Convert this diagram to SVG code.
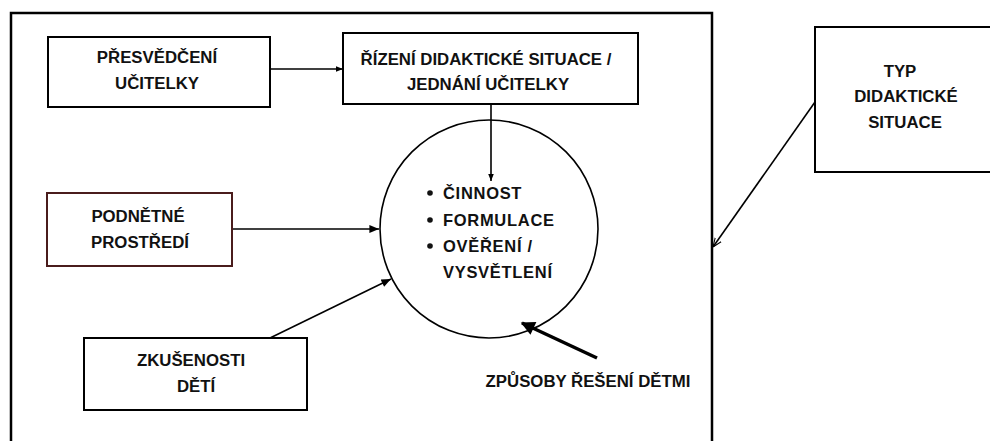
<svg xmlns="http://www.w3.org/2000/svg" width="990" height="441" viewBox="0 0 990 441">
  <style>
    .box { fill: #fff; stroke: #000; stroke-width: 2; }
    .box-red { fill: #fff; stroke: #4a1c1c; stroke-width: 2; }
    .frame { fill: none; stroke: #000; stroke-width: 2.5; }
    .lbl { font-family: "Liberation Sans", Arial, sans-serif; font-weight: bold; font-size: 16.8px; fill: #111; text-anchor: middle; }
    .item { font-family: "Liberation Sans", Arial, sans-serif; font-weight: bold; font-size: 16.5px; fill: #111; letter-spacing: 0.7px; }
    .con { fill: none; stroke: #000; stroke-width: 1.6; }
    .con-bold { fill: none; stroke: #000; stroke-width: 3.5; }
  </style>
  <defs>
    <marker id="arr" viewBox="0 0 10 10" refX="10" refY="5" markerWidth="7" markerHeight="7" markerUnits="userSpaceOnUse" orient="auto">
      <path d="M0,1 L10,5 L0,9 z" fill="#000"/>
    </marker>
    <marker id="arrw" viewBox="0 0 12 10" refX="12" refY="5" markerWidth="12" markerHeight="8" markerUnits="userSpaceOnUse" orient="auto">
      <path d="M0,0 L12,5 L0,10 z" fill="#000"/>
    </marker>
    <marker id="arr-open" viewBox="0 0 10 10" refX="10" refY="5" markerWidth="9" markerHeight="9" markerUnits="userSpaceOnUse" orient="auto">
      <path d="M0,1 L10,5 L0,9" fill="none" stroke="#000" stroke-width="1.2"/>
    </marker>
    <marker id="arr-bold" viewBox="0 0 10 10" refX="9" refY="5" markerWidth="16" markerHeight="14" markerUnits="userSpaceOnUse" orient="auto">
      <path d="M0,0 L10,5 L0,10 z" fill="#000"/>
    </marker>
  </defs>

  <!-- open frame around the classroom situation -->
  <path class="frame" d="M11,441 V13 H712 V441"/>

  <g id="connectors">
    <line class="con" x1="270" y1="69" x2="343" y2="69" marker-end="url(#arr)"/>
    <line class="con" x1="491" y1="104" x2="491" y2="181" marker-end="url(#arr)"/>
    <line class="con" x1="232" y1="229" x2="379" y2="229" marker-end="url(#arrw)"/>
    <line class="con" x1="270" y1="338" x2="391" y2="279" marker-end="url(#arrw)"/>
    <line class="con" x1="815" y1="102" x2="713" y2="247" marker-end="url(#arr-open)"/>
    <line class="con-bold" x1="597" y1="358" x2="522" y2="323" marker-end="url(#arr-bold)"/>
  </g>

  <g id="presvedceni">
    <rect class="box" x="48" y="37" width="222" height="70"/>
    <text class="lbl" x="157" y="63">PŘESVĚDČENÍ</text>
    <text class="lbl" x="157" y="89">UČITELKY</text>
  </g>

  <g id="rizeni">
    <rect class="box" x="343" y="33" width="295" height="71"/>
    <text class="lbl" x="486" y="65">ŘÍZENÍ DIDAKTICKÉ SITUACE /</text>
    <text class="lbl" x="488" y="90">JEDNÁNÍ UČITELKY</text>
  </g>

  <g id="typ">
    <rect class="box" x="815" y="27" width="180" height="145"/>
    <text class="lbl" x="900" y="77">TYP</text>
    <text class="lbl" x="906" y="102">DIDAKTICKÉ</text>
    <text class="lbl" x="905" y="128">SITUACE</text>
  </g>

  <g id="podnetne">
    <rect class="box-red" x="47" y="193" width="185" height="73"/>
    <text class="lbl" x="138" y="222">PODNĚTNÉ</text>
    <text class="lbl" x="140" y="248">PROSTŘEDÍ</text>
  </g>

  <g id="zkusenosti">
    <rect class="box" x="84" y="338" width="223" height="72"/>
    <text class="lbl" x="191" y="366">ZKUŠENOSTI</text>
    <text class="lbl" x="196" y="392">DĚTÍ</text>
  </g>

  <g id="cinnost">
    <circle cx="489" cy="229" r="109" fill="none" stroke="#000" stroke-width="1.6"/>
    <circle cx="430" cy="193" r="2.8" fill="#111"/>
    <circle cx="430" cy="220" r="2.8" fill="#111"/>
    <circle cx="430" cy="246" r="2.8" fill="#111"/>
    <text class="item" x="443" y="199">ČINNOST</text>
    <text class="item" x="443" y="226">FORMULACE</text>
    <text class="item" x="443" y="252">OVĚŘENÍ /</text>
    <text class="item" x="443" y="278">VYSVĚTLENÍ</text>
  </g>

  <g id="zpusoby">
    <text class="lbl" x="588" y="387">ZPŮSOBY ŘEŠENÍ DĚTMI</text>
  </g>
</svg>
